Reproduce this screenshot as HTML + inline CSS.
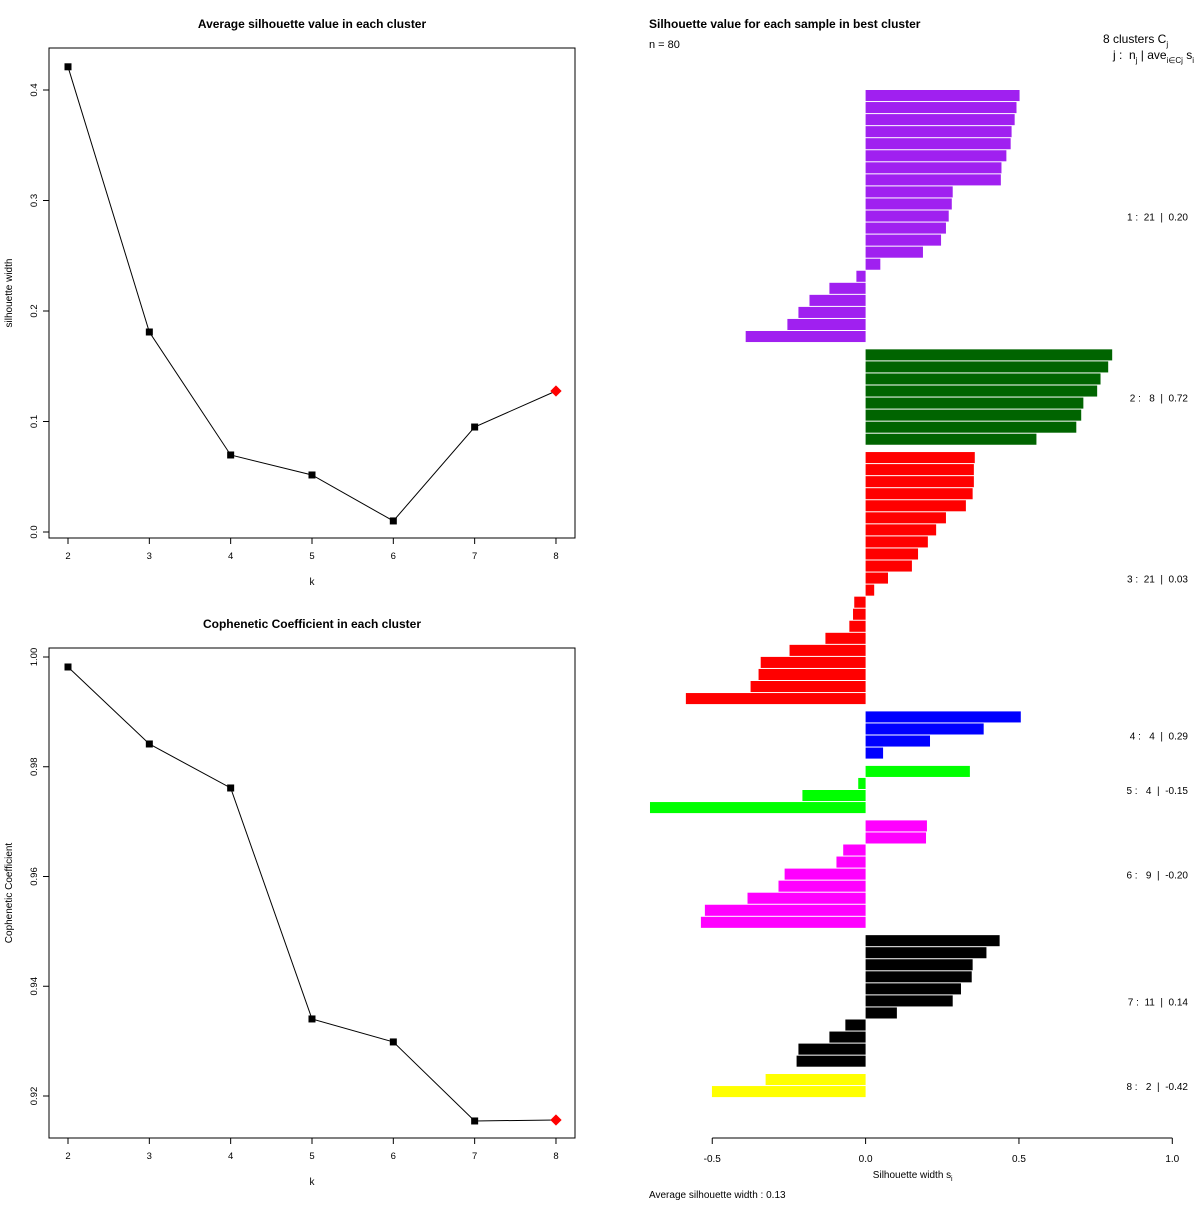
<!DOCTYPE html>
<html><head><meta charset="utf-8"><style>
body{margin:0;background:#fff}
svg text{font-family:"Liberation Sans",sans-serif;fill:#000}
.pre{white-space:pre}
</style></head><body>
<svg id="s" width="1200" height="1200" xmlns="http://www.w3.org/2000/svg">
<rect width="1200" height="1200" fill="#fff"/>
<g id="p1"></g>
<g id="p2"></g>
<g id="p3"></g>
<text x="1103" y="43" font-size="12">8 clusters  C<tspan font-size="8" dy="4">j</tspan></text>
<text x="1113" y="59" font-size="12" class="pre">j :  n<tspan font-size="8" dy="4">j</tspan><tspan dy="-4"> | ave</tspan><tspan font-size="8" dy="4">i∈Cj</tspan><tspan dy="-4"> s</tspan><tspan font-size="8" dy="4">i</tspan></text>
</svg>
<script>
const ks = [2,3,4,5,6,7,8];
const silAvg = [0.421,0.181,0.0697,0.0516,0.010,0.095,0.1276];
const silTicks = [0.0,0.1,0.2,0.3,0.4];
const coph = [0.99818,0.98415,0.97613,0.93404,0.92985,0.91545,0.91563];
const cophTicks = [0.92,0.94,0.96,0.98,1.00];
const clusterColors = ["#a020f0","#006400","#ff0000","#0000ff","#00ff00","#ff00ff","#000000","#ffff00"];
const clusterLabels = ["1 :  21  |  0.20","2 :   8  |  0.72","3 :  21  |  0.03","4 :   4  |  0.29","5 :   4  |  -0.15","6 :   9  |  -0.20","7 :  11  |  0.14","8 :   2  |  -0.42"];
const c1 = [0.502,0.492,0.486,0.476,0.473,0.459,0.443,0.441,0.284,0.281,0.271,0.262,0.246,0.187,0.048,-0.030,-0.118,-0.183,-0.219,-0.255,-0.391];
const c2 = [0.804,0.791,0.766,0.755,0.710,0.703,0.687,0.557];
const c3 = [0.356,0.353,0.353,0.349,0.327,0.262,0.230,0.203,0.171,0.151,0.073,0.028,-0.037,-0.041,-0.053,-0.131,-0.248,-0.342,-0.349,-0.375,-0.586];
const c4 = [0.506,0.385,0.210,0.057];
const c5 = [0.340,-0.024,-0.206,-0.703];
const c6 = [0.200,0.197,-0.073,-0.095,-0.264,-0.284,-0.385,-0.524,-0.537];
const c7 = [0.437,0.394,0.349,0.346,0.311,0.284,0.102,-0.066,-0.118,-0.219,-0.225];
const c8 = [-0.326,-0.501];
const xTicks = [-0.5,0.0,0.5,1.0];
const xTickLabels = ["-0.5","0.0","0.5","1.0"];

const NS="http://www.w3.org/2000/svg";
function mk(parent,tag,attrs,txt){const e=document.createElementNS(NS,tag);for(const k in attrs)e.setAttribute(k,attrs[k]);if(txt!==undefined)e.textContent=txt;parent.appendChild(e);return e;}

function linePlot(g,top,vals,ticks,tickFmt,y0v,y0px,y1v,y1px,title,ytitle){
  const L=49,R=575,T=top,B=top+490;
  const xs=k=>68+(k-2)*81.33;
  const ys=v=>y0px+(v-y0v)*(y1px-y0px)/(y1v-y0v);
  let t=mk(g,'text',{x:312,y:top-20,'text-anchor':'middle','font-size':12,'font-weight':'bold'},title);
  
  let b=mk(g,'rect',{x:L,y:T,width:R-L,height:B-T,fill:'none',stroke:'#000','stroke-width':1});
  
  ks.forEach(k=>{
    let l=mk(g,'line',{x1:xs(k),x2:xs(k),y1:B,y2:B+6,stroke:'#000'});
    
    let tl=mk(g,'text',{x:xs(k),y:B+21,'text-anchor':'middle','font-size':9.5},String(k));
    
  });
  let xt=mk(g,'text',{x:312,y:B+47,'text-anchor':'middle','font-size':10},'k');
  
  ticks.forEach(v=>{
    let y=ys(v);
    let l=mk(g,'line',{x1:L-6,x2:L,y1:y,y2:y,stroke:'#000'});
    
    let tl=mk(g,'text',{x:0,y:0,'text-anchor':'middle','font-size':9.5,transform:`translate(37,${y}) rotate(-90)`},tickFmt(v));
    
  });
  let yt=mk(g,'text',{x:0,y:0,'text-anchor':'middle','font-size':10,transform:`translate(12,${(T+B)/2}) rotate(-90)`},ytitle);
  
  let pts=vals.map((v,i)=>xs(ks[i])+','+ys(v)).join(' ');
  let pl=mk(g,'polyline',{points:pts,fill:'none',stroke:'#000','stroke-width':1});
  
  vals.forEach((v,i)=>{
    const x=xs(ks[i]),y=ys(v);
    if(i===vals.length-1){
      let d=mk(g,'rect',{x:x-4,y:y-4,width:8,height:8,fill:'#ff0000',transform:`rotate(45 ${x} ${y})`});
      
    } else {
      let p=mk(g,'rect',{x:x-3.5,y:y-3.5,width:7,height:7,fill:'#000'});
      
    }
  });
}
linePlot(document.getElementById('p1'),48,silAvg,silTicks,v=>v.toFixed(1),0,532,0.4,90,'Average silhouette value in each cluster','silhouette width');
linePlot(document.getElementById('p2'),648,coph,cophTicks,v=>v.toFixed(2),0.92,1096,1.0,657,'Cophenetic Coefficient in each cluster','Cophenetic Coefficient');

const g3=document.getElementById('p3');
const clusters=[c1,c2,c3,c4,c5,c6,c7,c8];
const sx=v=>865.6+v*306.7;
const pitch=12.05, gap=6.3;
let y=90;
let t3=mk(g3,'text',{x:649,y:28,'font-size':12,'font-weight':'bold'},'Silhouette value for each sample in best cluster');

let nt=mk(g3,'text',{x:649,y:48,'font-size':11},'n = 80');

clusters.forEach((c,ci)=>{
  const start=y;
  c.forEach(v=>{
    const x0=Math.min(sx(0),sx(v)), w=Math.abs(sx(v)-sx(0));
    let r=mk(g3,'rect',{x:x0,y:y,width:w,height:pitch-1,fill:clusterColors[ci]});
    
    y+=pitch;
  });
  const mid=(start+y)/2;
  let lb=mk(g3,'text',{x:1188,y:mid+4,'text-anchor':'end','font-size':10,'class':'pre'},clusterLabels[ci]);
  
  y+=gap;
});
let ax=mk(g3,'line',{x1:sx(-0.5),x2:sx(1.0),y1:1138,y2:1138,stroke:'#000'});

xTicks.forEach((v,i)=>{
  let l=mk(g3,'line',{x1:sx(v),x2:sx(v),y1:1138,y2:1144,stroke:'#000'});
  
  let tl=mk(g3,'text',{x:sx(v),y:1162,'text-anchor':'middle','font-size':10},xTickLabels[i]);
  
});
let xt3=mk(g3,'text',{x:912,y:1178,'text-anchor':'middle','font-size':10},'Silhouette width s');

mk(g3,'text',{x:951,y:1181,'font-size':7},'i');
let av=mk(g3,'text',{x:649,y:1198,'font-size':10},'Average silhouette width :  0.13');

</script>
</body></html>
